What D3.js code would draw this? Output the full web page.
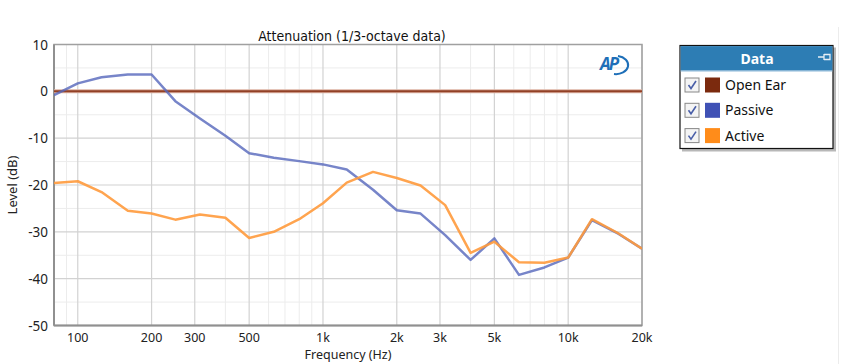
<!DOCTYPE html>
<html>
<head>
<meta charset="utf-8">
<script src="https://cdn.jsdelivr.net/npm/d3@7"></script>
<style>
  body { margin: 0; background: #fff; }
  svg text { font-family: "Noto Sans", "DejaVu Sans", sans-serif; }
</style>
</head>
<body>
<svg id="chart" width="860" height="364"></svg>
<script>
// 1/3-octave centre frequencies (Hz)
const freqs = [80, 100, 125, 160, 200, 250, 315, 400, 500, 630, 800, 1000, 1250,
               1600, 2000, 2500, 3150, 4000, 5000, 6300, 8000, 10000, 12500, 16000, 20000];
const openEar = freqs.map(() => 0);
const passive = [-0.8, 1.7, 3.0, 3.6, 3.6, -2.1, -5.8, -9.5, -13.2, -14.2, -14.9, -15.6, -16.7,
                 -21.0, -25.4, -26.1, -30.7, -36.0, -31.4, -39.2, -37.6, -35.5, -27.5, -30.4, -33.6];
const active = [-19.6, -19.2, -21.5, -25.5, -26.1, -27.4, -26.3, -27.0, -31.3, -30.0, -27.3, -23.9, -19.5,
                -17.2, -18.5, -20.1, -24.3, -34.5, -32.1, -36.5, -36.6, -35.5, -27.3, -30.3, -33.6];
const xTicks = [100, 200, 300, 500, 1000, 2000, 3000, 5000, 10000, 20000];
const xMinor = [90, 400, 600, 700, 800, 900, 4000, 6000, 7000, 8000, 9000];
const yTicks = [10, 0, -10, -20, -30, -40, -50];
const yMinor = [5, -5, -15, -25, -35, -45];

const series = [
  {name: "Open Ear", values: openEar, color: "#8a3418", halo: "#dcb2a2"},
  {name: "Passive", values: passive, color: "#5566bb", halo: null},
  {name: "Active", values: active, color: "#ff9a3c", halo: null}
];

const svg = d3.select("#chart");
const plotL = 54, plotR = 642, plotT = 44.5, plotB = 325.5;

const x = d3.scaleLog().domain([80, 20000]).range([plotL, plotR]);
const y = d3.scaleLinear().domain([-50, 10]).range([plotB, plotT]);

// minor grid
svg.append("g").selectAll("line").data(xMinor).enter().append("line")
  .attr("x1", d => x(d)).attr("x2", d => x(d)).attr("y1", plotT).attr("y2", plotB)
  .attr("stroke", "#ececec").attr("stroke-width", 1);
svg.append("g").selectAll("line").data(yMinor).enter().append("line")
  .attr("x1", plotL).attr("x2", plotR).attr("y1", d => y(d)).attr("y2", d => y(d))
  .attr("stroke", "#ececec").attr("stroke-width", 1);

// major grid
svg.append("g").selectAll("line").data(xTicks).enter().append("line")
  .attr("x1", d => x(d)).attr("x2", d => x(d)).attr("y1", plotT).attr("y2", plotB)
  .attr("stroke", "#d2d2d2").attr("stroke-width", 1.2);
svg.append("g").selectAll("line").data(yTicks).enter().append("line")
  .attr("x1", plotL).attr("x2", plotR).attr("y1", d => y(d)).attr("y2", d => y(d))
  .attr("stroke", "#d2d2d2").attr("stroke-width", 1.2);

// frame
svg.append("rect").attr("x", plotL).attr("y", plotT).attr("width", plotR - plotL).attr("height", plotB - plotT)
  .attr("fill", "none").attr("stroke", "#a0a0a0").attr("stroke-width", 1.5);
svg.append("line").attr("x1", plotL).attr("x2", plotL).attr("y1", plotT).attr("y2", plotB)
  .attr("stroke", "#909090").attr("stroke-width", 2);
svg.append("line").attr("x1", plotL).attr("x2", plotR).attr("y1", plotB).attr("y2", plotB)
  .attr("stroke", "#909090").attr("stroke-width", 2);

// axes labels (ticks)
const fmt = d => d >= 1000 ? (d / 1000) + "k" : d;
svg.append("g").selectAll("text").data(xTicks).enter().append("text")
  .attr("x", d => x(d)).attr("y", 342).attr("text-anchor", "middle")
  .attr("font-size", 12.5).attr("fill", "#222").text(fmt);
svg.append("g").selectAll("text").data(yTicks).enter().append("text")
  .attr("x", 48).attr("y", d => y(d) + 5).attr("text-anchor", "end")
  .attr("font-size", 13.5).attr("fill", "#222").text(d => d);

svg.append("text").attr("x", 348).attr("y", 359).attr("text-anchor", "middle")
  .attr("font-size", 12.5).attr("fill", "#222").text("Frequency (Hz)");
svg.append("text").attr("transform", "translate(17,185) rotate(-90)").attr("text-anchor", "middle")
  .attr("font-size", 13).attr("fill", "#222").text("Level (dB)");
svg.append("text").attr("x", 352).attr("y", 41).attr("text-anchor", "middle")
  .attr("font-size", 14).attr("fill", "#111")
  .style("font-family", "'Liberation Sans Narrow', 'DejaVu Sans Condensed', sans-serif")
  .text("Attenuation (1/3-octave data)");

// AP logo
const logo = svg.append("g").attr("transform", "translate(598,53)");
logo.append("text").attr("x", 2).attr("y", 17).attr("font-size", 17).attr("font-weight", "bold")
  .attr("font-style", "italic").attr("fill", "#1e6fb8").style("letter-spacing", "-2px").text("AP");
logo.append("path").attr("d", "M20,3 A12,9 0 0 1 16,21").attr("fill", "none")
  .attr("stroke", "#1e6fb8").attr("stroke-width", 2);

// lines
const line = d3.line().x((d, i) => x(freqs[i])).y(d => y(d));
svg.append("clipPath").attr("id", "plotclip").append("rect")
  .attr("x", plotL).attr("y", plotT).attr("width", plotR - plotL).attr("height", plotB - plotT);
const lines = svg.append("g").attr("clip-path", "url(#plotclip)");
series.forEach(s => {
  if (s.halo) {
    lines.append("path").datum(s.values).attr("d", line).attr("fill", "none")
      .attr("stroke", s.halo).attr("stroke-width", 4);
  }
  lines.append("path").datum(s.values).attr("d", line).attr("fill", "none")
    .attr("stroke", s.color).attr("stroke-width", s.halo ? 2 : 2.5)
    .attr("stroke-opacity", s.name === "Passive" ? 0.8 : 0.9)
    .attr("stroke-linejoin", "round");
});

// right page edge
svg.append("line").attr("x1", 838.5).attr("x2", 838.5).attr("y1", 27).attr("y2", 364)
  .attr("stroke", "#ececec").attr("stroke-width", 1);

// legend
const lg = svg.append("g").attr("transform", "translate(680,45.5)");
lg.append("rect").attr("x", 2).attr("y", 2).attr("width", 154).attr("height", 104).attr("fill", "#b8b8b8");
lg.append("rect").attr("x", 0).attr("y", 0).attr("width", 153).attr("height", 103)
  .attr("fill", "#fff").attr("stroke", "#111").attr("stroke-width", 1.2);
lg.append("rect").attr("x", 0.6).attr("y", 0.6).attr("width", 151.8).attr("height", 24.5).attr("fill", "#2d7db4");
lg.append("line").attr("x1", 0.6).attr("x2", 152.4).attr("y1", 25.5).attr("y2", 25.5)
  .attr("stroke", "#8cb8d8").attr("stroke-width", 1);
lg.append("text").attr("x", 77).attr("y", 18).attr("text-anchor", "middle").attr("font-size", 14)
  .attr("font-weight", "bold").attr("fill", "#fff").text("Data");
lg.append("path").attr("d", "M138,11.5 H144 M144,8.5 V14.5 M144,9 H150 V14 H144")
  .attr("fill", "none").attr("stroke", "#e6eef5").attr("stroke-width", 1.3);

const rows = lg.selectAll("g.row").data(series).enter().append("g")
  .attr("transform", (d, i) => `translate(0,${39.5 + i * 25.3})`);
rows.append("rect").attr("x", 5).attr("y", -7).attr("width", 14).attr("height", 14)
  .attr("fill", "#f4f4f4").attr("stroke", "#888").attr("stroke-width", 1);
rows.append("path").attr("d", "M8.5,0 L11,3.5 L16,-4").attr("fill", "none")
  .attr("stroke", "#4a5fa8").attr("stroke-width", 1.6);
rows.append("rect").attr("x", 25).attr("y", -7.5).attr("width", 15).attr("height", 15)
  .attr("fill", d => d.name === "Open Ear" ? "#7b2a0e" : d.name === "Passive" ? "#3f51b5" : "#ff8c1a");
rows.append("text").attr("x", 45).attr("y", 5).attr("font-size", 14).attr("fill", "#111")
  .text(d => d.name);
</script>
</body>
</html>
